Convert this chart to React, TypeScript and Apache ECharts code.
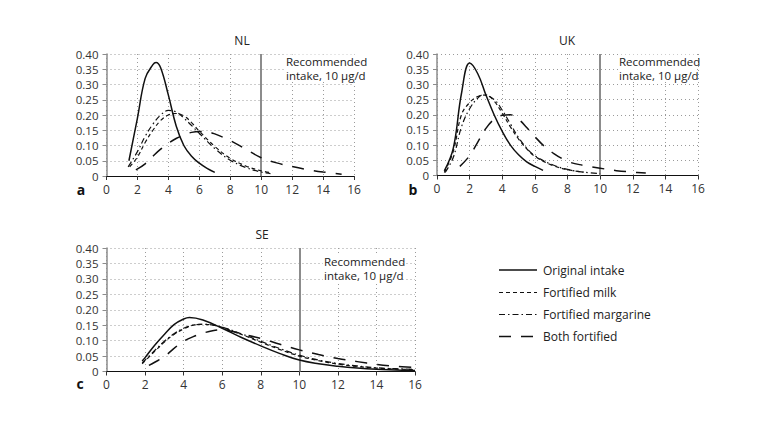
import React, { useEffect, useRef } from "react";
import * as echarts from "echarts";

const xTicks = [0, 2, 4, 6, 8, 10, 12, 14, 16];
const yTicks = [0, 0.05, 0.1, 0.15, 0.2, 0.25, 0.3, 0.35, 0.4];
const panelTitles = ["NL", "UK", "SE"];
const panelLetters = ["a", "b", "c"];
const seriesNames = ["Original intake", "Fortified milk", "Fortified margarine", "Both fortified"];
const recommended = 10;
const recommendedLines = ["Recommended", "intake, 10 µg/d"];

const nlOriginal = [[1.45,0.05],[2,0.19],[2.5,0.32],[3,0.365],[3.2,0.372],[3.5,0.355],[4,0.265],[4.5,0.165],[5,0.1],[5.5,0.065],[6,0.042],[6.5,0.025],[7,0.012]];
const nlMilk = [[1.5,0.03],[2,0.062],[2.5,0.11],[3,0.15],[3.5,0.182],[4,0.2],[4.5,0.205],[5,0.197],[5.5,0.175],[6,0.147],[7,0.097],[8,0.058],[9,0.033],[10,0.017],[10.7,0.01]];
const nlMargarine = [[1.4,0.03],[2,0.08],[2.5,0.13],[3,0.17],[3.5,0.2],[4,0.215],[4.5,0.21],[5,0.19],[6,0.14],[7,0.09],[8,0.052],[9,0.028],[10,0.013],[10.6,0.008]];
const nlBoth = [[1.9,0.02],[2.5,0.04],[3,0.065],[3.5,0.088],[4,0.107],[4.5,0.123],[5,0.135],[5.5,0.143],[6,0.146],[6.5,0.145],[7,0.138],[8,0.116],[9,0.088],[10,0.06],[11,0.043],[12,0.031],[13,0.021],[14,0.013],[15.2,0.006]];

const ukOriginal = [[0.45,0.015],[1,0.09],[1.5,0.27],[2,0.37],[2.5,0.335],[3,0.265],[3.5,0.2],[4,0.145],[4.5,0.1],[5,0.068],[5.5,0.045],[6,0.03],[6.5,0.017]];
const ukMilk = [[0.45,0.01],[1,0.08],[1.5,0.2],[2,0.24],[2.5,0.26],[3,0.265],[3.5,0.245],[4,0.205],[4.5,0.16],[5,0.12],[5.5,0.088],[6,0.063],[7,0.035],[8,0.019],[9,0.011]];
const ukMargarine = [[0.5,0.01],[1,0.06],[1.5,0.16],[2,0.22],[2.5,0.255],[2.8,0.265],[3.5,0.25],[4,0.215],[4.5,0.17],[5,0.125],[5.5,0.09],[6,0.065],[7,0.037],[8,0.02],[9,0.011],[10,0.006]];
const ukBoth = [[1.4,0.03],[2,0.065],[2.5,0.11],[3,0.155],[3.5,0.185],[4,0.198],[4.5,0.2],[5,0.185],[5.5,0.158],[6,0.128],[6.5,0.1],[7,0.078],[8,0.047],[9,0.033],[10,0.024],[11,0.016],[12,0.011],[12.8,0.008]];

const seOriginal = [[1.85,0.034],[2,0.045],[2.5,0.085],[3,0.12],[3.5,0.152],[4,0.17],[4.3,0.175],[5,0.167],[6,0.14],[7,0.11],[8,0.083],[9,0.058],[10,0.037],[11,0.025],[12,0.017],[13,0.011],[14,0.007],[15,0.005],[16,0.003]];
const seMilk = [[1.85,0.025],[2.5,0.065],[3,0.095],[3.5,0.12],[4,0.138],[4.5,0.15],[5,0.153],[5.5,0.15],[6,0.143],[7,0.12],[8,0.095],[9,0.071],[10,0.05],[11,0.035],[12,0.024],[13,0.016],[14,0.011],[15,0.008],[16,0.006]];
const seMargarine = [[1.85,0.028],[2.5,0.068],[3,0.098],[3.5,0.122],[4,0.14],[4.5,0.15],[5,0.153],[5.5,0.151],[6,0.144],[7,0.122],[8,0.098],[9,0.074],[10,0.053],[11,0.037],[12,0.026],[13,0.018],[14,0.012],[15,0.009],[16,0.007]];
const seBoth = [[2.2,0.02],[2.5,0.03],[3,0.048],[3.5,0.075],[4,0.098],[4.5,0.113],[5,0.124],[5.5,0.132],[6,0.135],[7,0.122],[8,0.107],[9,0.088],[10,0.07],[11,0.055],[12,0.042],[13,0.032],[14,0.023],[15,0.017],[16,0.013]];

const panelData = [
  [nlOriginal, nlMilk, nlMargarine, nlBoth],
  [ukOriginal, ukMilk, ukMargarine, ukBoth],
  [seOriginal, seMilk, seMargarine, seBoth],
];

const FONT = "'Open Sans', 'Noto Sans', sans-serif";
const dashes: any[] = ["solid", [4, 3], [6, 3, 1.5, 3], [12, 10]];
const widths = [1.5, 1.2, 1.2, 1.5];

const grids = [
  { left: 106.5, top: 54, width: 247.5, height: 122 },
  { left: 437, top: 54, width: 261, height: 121.5 },
  { left: 106.5, top: 248, width: 308.5, height: 123.5 },
];
const titlePos = [[242, 40], [567, 40], [262, 234]];
const letterPos = [[81, 189], [413, 189], [80, 383]];
const recPos = [[286, 61.5], [619, 61.5], [324, 261.5]];
const legendX = 499;
const legendY = [270, 292.5, 314.5, 336.5];

export default function App() {
  const ref = useRef<HTMLDivElement>(null);
  useEffect(() => {
    if (!ref.current) return;
    const chart = echarts.init(ref.current, undefined, { renderer: "svg" });
    const xAxis = grids.map((_, i) => ({
      type: "value",
      gridIndex: i,
      min: xTicks[0],
      max: xTicks[xTicks.length - 1],
      interval: 2,
      axisLine: { show: true, onZero: false, lineStyle: { color: "#111", width: 1.2 } },
      axisTick: { show: true, inside: false, length: 4, lineStyle: { color: "#333" } },
      axisLabel: { color: "#333", fontSize: 12, fontFamily: FONT, margin: 7 },
      splitLine: { show: true, lineStyle: { color: "#9a9a9a", type: [1, 3], width: 1 } },
    }));
    const yAxis = grids.map((_, i) => ({
      type: "value",
      gridIndex: i,
      min: yTicks[0],
      max: yTicks[yTicks.length - 1],
      interval: 0.05,
      axisLine: { show: true, lineStyle: { color: "#8c8c8c", width: 1.5 } },
      axisTick: { show: true, length: 4, lineStyle: { color: "#8c8c8c" } },
      axisLabel: {
        color: "#333",
        fontSize: 11.5,
        fontFamily: FONT,
        margin: 8,
        formatter: (v: number) => (v === 0 ? "0" : v.toFixed(2)),
      },
      splitLine: { show: true, lineStyle: { color: "#9a9a9a", type: [1, 3], width: 1 } },
    }));
    const series: any[] = [];
    panelData.forEach((panel, p) => {
      panel.forEach((data, s) => {
        series.push({
          type: "line",
          name: seriesNames[s],
          xAxisIndex: p,
          yAxisIndex: p,
          data,
          smooth: 0.4,
          showSymbol: false,
          symbol: "none",
          z: 5,
          lineStyle: { color: "#111", width: widths[s], type: dashes[s] },
          markLine:
            s === 0
              ? {
                  silent: true,
                  symbol: "none",
                  label: { show: false },
                  lineStyle: { color: "#8c8c8c", width: 2, type: "solid" },
                  data: [{ xAxis: recommended }],
                }
              : undefined,
        });
      });
    });
    const graphic: any[] = [];
    panelTitles.forEach((t, i) => {
      graphic.push({
        type: "text",
        x: titlePos[i][0],
        y: titlePos[i][1],
        style: { text: t, fill: "#222", font: `12px ${FONT}`, textAlign: "center", textVerticalAlign: "middle" },
      });
      graphic.push({
        type: "text",
        x: letterPos[i][0],
        y: letterPos[i][1],
        style: { text: panelLetters[i], fill: "#111", font: `bold 14px ${FONT}`, textAlign: "center", textVerticalAlign: "middle" },
      });
      graphic.push({
        type: "rect",
        z: 9,
        shape: { x: recPos[i][0] - 1, y: recPos[i][1] - 7, width: 77, height: 27 },
        style: { fill: "#fff" },
      });
      recommendedLines.forEach((line, j) => {
        graphic.push({
          type: "text",
          x: recPos[i][0],
          y: recPos[i][1] + j * 13.5,
          z: 10,
          style: {
            text: line,
            fill: "#222",
            font: `11.5px ${FONT}`,
            textVerticalAlign: "middle",
          },
        });
      });
    });
    seriesNames.forEach((n, i) => {
      graphic.push({
        type: "line",
        shape: { x1: legendX, y1: legendY[i], x2: legendX + 38, y2: legendY[i] },
        style: { stroke: "#111", lineWidth: widths[i], lineDash: dashes[i] === "solid" ? null : dashes[i] },
      });
      graphic.push({
        type: "text",
        x: legendX + 44,
        y: legendY[i],
        style: { text: n, fill: "#222", font: `12px ${FONT}`, textVerticalAlign: "middle" },
      });
    });
    chart.setOption({
      animation: false,
      backgroundColor: "#fff",
      grid: grids.map((g) => ({ ...g, containLabel: false })),
      xAxis,
      yAxis,
      series,
      graphic,
    });
    return () => chart.dispose();
  }, []);
  return <div ref={ref} style={{ position: "fixed", left: 0, top: 0, width: 781, height: 428 }} />;
}
